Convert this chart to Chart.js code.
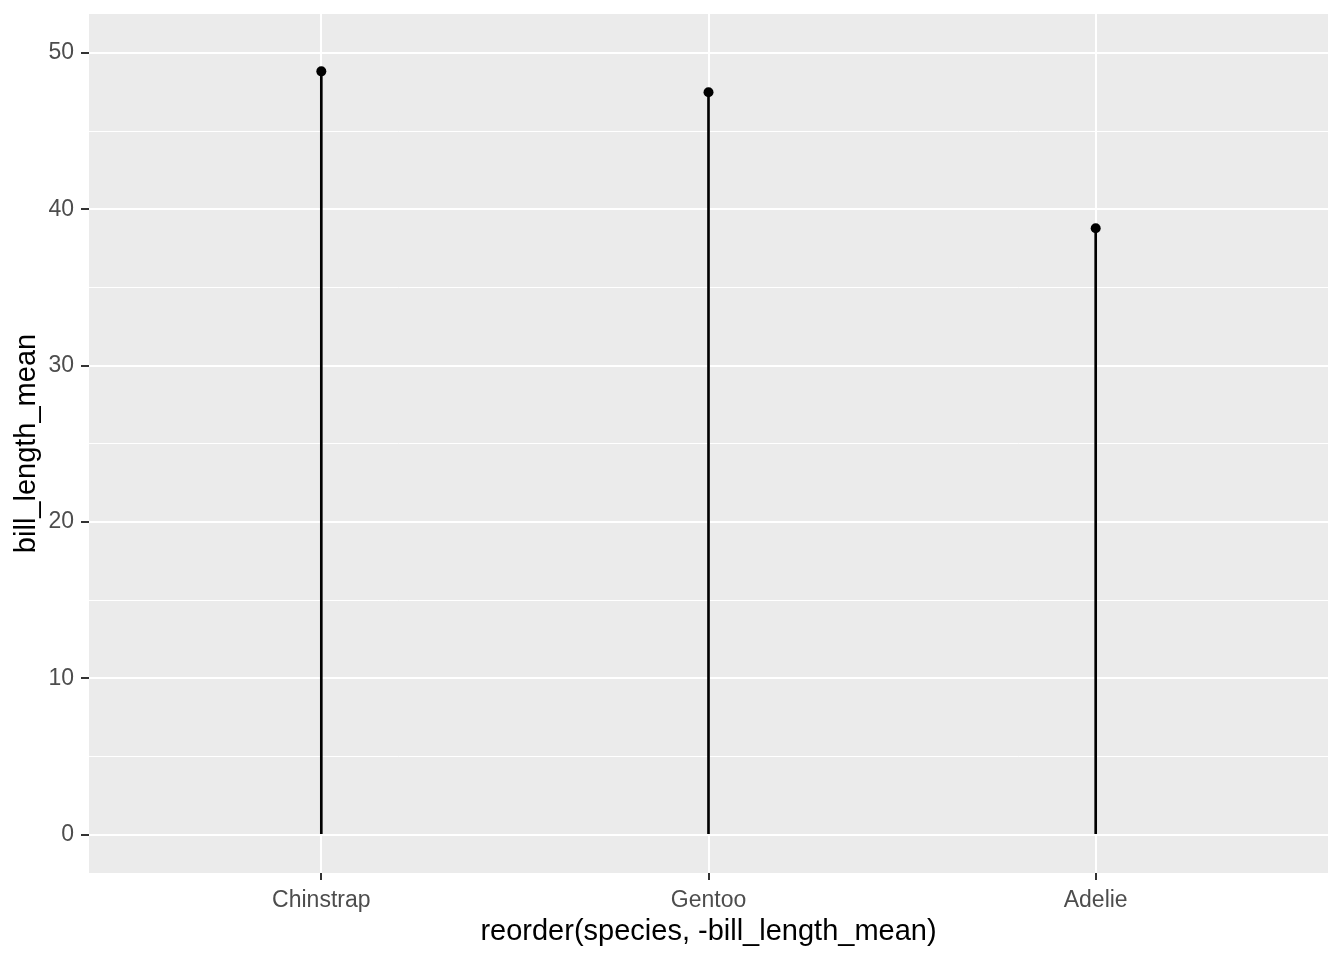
<!DOCTYPE html>
<html>
<head>
<meta charset="utf-8">
<script src="https://cdn.jsdelivr.net/npm/chart.js@4/dist/chart.umd.min.js"></script>
<style>
  html, body { margin: 0; padding: 0; background: #fff; }
  #wrap { width: 1344px; height: 960px; }
</style>
</head>
<body>
<div id="wrap"><canvas id="chart"></canvas></div>
<script>
// data
const species = ['Chinstrap', 'Gentoo', 'Adelie'];
const billLengthMean = [48.83, 47.50, 38.79];
const yTicks = [0, 5, 10, 15, 20, 25, 30, 35, 40, 45, 50];
const yLabels = ['0', '10', '20', '30', '40', '50'];

const panelBg = {
    id: 'panelBg',
    beforeDraw (chart) {
        const { ctx, chartArea: a } = chart;
        ctx.save();
        ctx.fillStyle = '#EBEBEB';
        ctx.fillRect(a.left, a.top, a.right - a.left, a.bottom - a.top);
        ctx.restore();
    }
};

const isMajor = v => yLabels.includes(String(v));

const points = species.map((s, i) => ({ x: i, y: billLengthMean[i] }));

new Chart(document.getElementById('chart').getContext('2d'), {
    type: 'bar',
    data: {
        datasets: [
            {
                type: 'bar',
                data: points,
                backgroundColor: '#000',
                barThickness: 2,
                order: 2
            },
            {
                type: 'scatter',
                data: points,
                pointRadius: 5,
                pointHoverRadius: 5,
                pointBackgroundColor: '#000',
                pointBorderWidth: 0,
                order: 1
            }
        ]
    },
    options: {
        responsive: true,
        maintainAspectRatio: false,
        animation: false,
        layout: { padding: { top: 14, right: 16, left: 0, bottom: 0 } },
        plugins: {
            legend: { display: false },
            tooltip: { enabled: false }
        },
        scales: {
            x: {
                type: 'linear',
                min: -0.6,
                max: 2.6,
                offset: false,
                afterBuildTicks: scale => { scale.ticks = species.map((s, i) => ({ value: i })); },
                afterFit: scale => {
                    scale.height = 87;
                    scale.paddingLeft = 0;
                    scale.paddingRight = 0;
                },
                border: { display: false },
                grid: {
                    offset: false,
                    color: '#FFFFFF',
                    lineWidth: 2,
                    tickColor: '#333333',
                    tickWidth: 2,
                    tickLength: 7
                },
                ticks: {
                    padding: 7,
                    color: '#4D4D4D',
                    font: { family: 'Liberation Sans, Arial', size: 23 },
                    maxRotation: 0,
                    callback: v => species[v]
                },
                title: {
                    display: true,
                    text: 'reorder(species, -bill_length_mean)',
                    color: '#000',
                    font: { family: 'Liberation Sans, Arial', size: 29 },
                    padding: { top: 0, bottom: 11 }
                }
            },
            y: {
                min: -2.45,
                max: 52.5,
                afterBuildTicks: scale => { scale.ticks = yTicks.map(v => ({ value: v })); },
                afterFit: scale => {
                    scale.width = 89;
                    scale.paddingTop = 0;
                    scale.paddingBottom = 0;
                },
                border: { display: false },
                grid: {
                    color: '#FFFFFF',
                    lineWidth: c => isMajor(c.tick.value) ? 2 : 1,
                    tickColor: c => isMajor(c.tick.value) ? '#333333' : 'rgba(0,0,0,0)',
                    tickWidth: 2,
                    tickLength: 8
                },
                ticks: {
                    padding: 7,
                    color: '#4D4D4D',
                    font: { family: 'Liberation Sans, Arial', size: 23 },
                    callback: v => isMajor(v) ? String(v) : ''
                },
                title: {
                    display: true,
                    text: 'bill_length_mean',
                    color: '#000',
                    font: { family: 'Liberation Sans, Arial', size: 29 },
                    padding: { top: 10, bottom: 0 }
                }
            }
        }
    },
    plugins: [panelBg]
});
</script>
</body>
</html>
